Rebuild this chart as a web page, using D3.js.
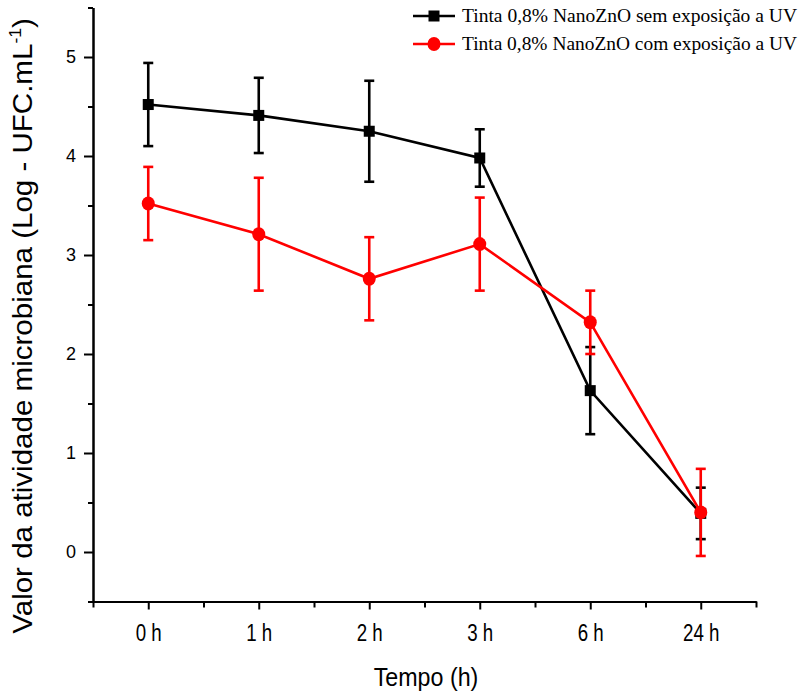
<!DOCTYPE html>
<html><head><meta charset="utf-8">
<script src="https://cdn.jsdelivr.net/npm/d3@7"></script>
<style>body{margin:0;background:#fff}svg{display:block}</style>
</head><body>
<svg id="c" width="799" height="693"></svg>
<script>
const categories = ["0 h","1 h","2 h","3 h","6 h","24 h"];
const semUV = [4.52, 4.41, 4.25, 3.98, 1.63, 0.39];
const semUVErr = [0.42, 0.38, 0.51, 0.29, 0.44, 0.26];
const comUV = [3.52, 3.21, 2.76, 3.11, 2.32, 0.40];
const comUVErr = [0.37, 0.57, 0.42, 0.47, 0.32, 0.44];
const yTicks = [0,1,2,3,4,5];
const seriesNames = ["Tinta 0,8% NanoZnO sem exposição a UV","Tinta 0,8% NanoZnO com exposição a UV"];
const colors = ["#000000","#ff0000"];

const svg = d3.select("#c");
const x = d3.scaleLinear().domain([-0.5, 5.5]).range([93, 756]);
const y = d3.scaleLinear().domain([-0.5, 5.5]).range([601.5, 7.5]);

// axes
const xAxis = d3.axisBottom(x).tickValues(d3.range(6)).tickFormat(i=>categories[i]).tickSize(8).tickSizeOuter(0);
const xMinor = d3.axisBottom(x).tickValues(d3.range(-0.5,5.6,1)).tickFormat("").tickSize(6).tickSizeOuter(0);
const gx = svg.append("g").attr("transform","translate(0,601.5)");
gx.call(xAxis);
gx.append("g").call(xMinor);
gx.selectAll(".domain").attr("stroke","#000").attr("stroke-width",2);
gx.selectAll(".tick line").attr("stroke","#000").attr("stroke-width",2);
gx.selectAll(".tick text").attr("font-family","'Liberation Sans',Arial,sans-serif")
  .attr("font-size",24).attr("fill","#000").attr("y",39.5).attr("dy",0)
  .attr("transform","scale(0.78,1)");

const yAxis = d3.axisLeft(y).tickValues(yTicks).tickFormat(d3.format("d")).tickSize(9).tickSizeOuter(0).tickPadding(8);
const yMinor = d3.axisLeft(y).tickValues(d3.range(-0.5,5.6,1)).tickFormat("").tickSize(5).tickSizeOuter(0);
const gy = svg.append("g").attr("transform","translate(93,0)");
gy.call(yAxis);
gy.append("g").call(yMinor);
gy.selectAll(".domain").attr("stroke","#000").attr("stroke-width",2);
gy.selectAll(".tick line").attr("stroke","#000").attr("stroke-width",2);
gy.selectAll(".tick text").attr("font-family","'Liberation Sans',Arial,sans-serif")
  .attr("font-size",18).attr("fill","#000");

// titles
svg.append("text").attr("transform","translate(426,686) scale(0.93,1)").attr("text-anchor","middle")
  .attr("font-family","'Liberation Sans',Arial,sans-serif").attr("font-size",25)
  .text("Tempo (h)");
const yt = svg.append("text").attr("text-anchor","middle")
  .attr("font-family","'Liberation Sans',Arial,sans-serif").attr("font-size",27);
yt.append("tspan").text("Valor da atividade microbiana (Log - UFC.mL");
yt.append("tspan").attr("dy",-11).attr("font-size",16).text("-1");
yt.append("tspan").attr("dy",11).text(")");
const natural = yt.node().getComputedTextLength();
const sc = 616 / natural;
yt.attr("transform",`translate(32,326) rotate(-90) scale(${sc},1)`);

// series
const series = [
  {vals: semUV, err: semUVErr, color: colors[0], shape: "square"},
  {vals: comUV, err: comUVErr, color: colors[1], shape: "circle"}
];
const line = d3.line().x((d,i)=>x(i)).y(d=>y(d));
series.forEach(s=>{
  const g = svg.append("g");
  g.append("path").attr("d", line(s.vals)).attr("fill","none").attr("stroke",s.color).attr("stroke-width",2.6);
  s.vals.forEach((v,i)=>{
    const cx = x(i), top = y(v + s.err[i]), bot = y(v - s.err[i]);
    g.append("line").attr("x1",cx).attr("x2",cx).attr("y1",top).attr("y2",bot).attr("stroke",s.color).attr("stroke-width",2.6);
    [top,bot].forEach(yy=>g.append("line").attr("x1",cx-5).attr("x2",cx+5).attr("y1",yy).attr("y2",yy).attr("stroke",s.color).attr("stroke-width",2.6));
  });
});
series.forEach(s=>{
  const g = svg.append("g");
  s.vals.forEach((v,i)=>{
    if (s.shape==="square") g.append("rect").attr("x",x(i)-5.5).attr("y",y(v)-5.5).attr("width",11).attr("height",11).attr("fill",s.color);
    else g.append("ellipse").attr("cx",x(i)).attr("cy",y(v)).attr("rx",6.5).attr("ry",7).attr("fill",s.color);
  });
});

// legend
const lg = svg.append("g");
seriesNames.forEach((name,k)=>{
  const ly = 16 + k*28;
  lg.append("line").attr("x1",413).attr("x2",455).attr("y1",ly).attr("y2",ly).attr("stroke",colors[k]).attr("stroke-width",2.6);
  if (k===0) lg.append("rect").attr("x",434-5.5).attr("y",ly-5.5).attr("width",11).attr("height",11).attr("fill",colors[k]);
  else lg.append("ellipse").attr("cx",434).attr("cy",ly).attr("rx",6.5).attr("ry",7).attr("fill",colors[k]);
  const t = lg.append("text").attr("x",462).attr("y",ly+6).attr("font-family","'Liberation Serif','Times New Roman',serif")
    .attr("font-size",19).attr("fill","#000").text(name);
  t.attr("textLength", 335).attr("lengthAdjust","spacingAndGlyphs");
});
</script>
</body></html>
